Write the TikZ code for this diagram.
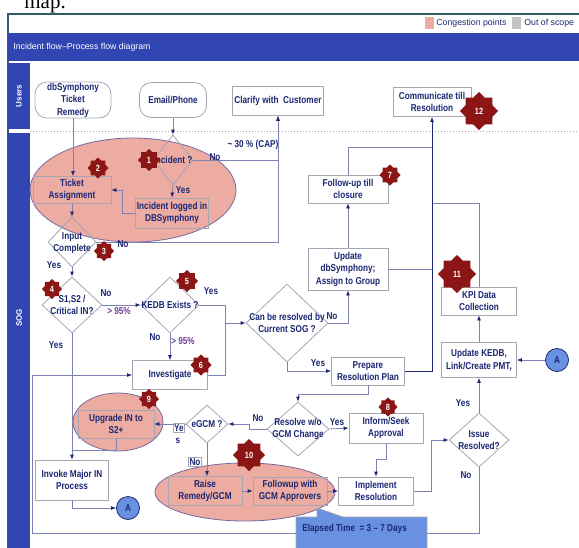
\documentclass[tikz,border=0pt]{standalone}
\usepackage{fontspec}
\setmainfont{Liberation Sans}[FakeStretch=0.82]
\newfontfamily\widesans{Liberation Sans}
\newfontfamily\serifont{Liberation Serif}
\usepackage{tikz}
\usetikzlibrary{shapes,arrows.meta}

\definecolor{navyt}{RGB}{28,38,115}
\definecolor{barblue}{RGB}{49,70,178}
\definecolor{framec}{RGB}{45,95,105}
\definecolor{flowc}{RGB}{125,130,180}
\definecolor{boxc}{RGB}{165,165,180}
\definecolor{congpink}{RGB}{236,172,162}
\definecolor{ellc}{RGB}{120,105,160}
\definecolor{starred}{RGB}{140,22,22}
\definecolor{outgray}{RGB}{195,195,195}
\definecolor{pctc}{RGB}{115,60,150}
\definecolor{calloutc}{RGB}{105,145,225}

\begin{document}
\begin{tikzpicture}[x=1pt, y=-1pt, line width=0.8pt,
  box/.style={draw=boxc, align=center, text=navyt, inner sep=0pt, font=\bfseries\fontsize{10}{12.5}\selectfont},
  pill/.style={box, rounded corners=12pt},
  decide/.style={diamond, draw=boxc, inner sep=0pt},
  dtext/.style={align=center, text=navyt, inner sep=0pt, font=\bfseries\fontsize{10}{12.5}\selectfont},
  flow/.style={draw=flowc, -{Latex[length=5pt,width=4pt,color=navyt]}},
  joinline/.style={draw=flowc},
  lbl/.style={text=navyt, inner sep=0pt, font=\bfseries\fontsize{10}{12}\selectfont},
  pct/.style={lbl, text=pctc},
  congestion/.style={ellipse, draw=ellc, fill=congpink, inner sep=0pt},
  cpoint/.style={star, star points=8, star point ratio=1.3, fill=starred, text=white, inner sep=0pt, minimum size=#1, font=\bfseries\fontsize{9}{9}\selectfont},
  conn/.style={circle, draw=navyt, fill=calloutc, text=navyt, minimum size=23pt, inner sep=0pt, font=\bfseries\fontsize{10}{10}\selectfont},
  legendtext/.style={anchor=west, text=navyt, inner sep=0pt, font=\widesans\fontsize{8.75}{9}\selectfont}
]
\useasboundingbox (0,0) rectangle (579,547);

\node[anchor=base west, inner sep=0pt, font=\serifont\fontsize{21}{21}\selectfont] (maptxt) at (24,8) {map.};
\draw[framec, line width=1.5pt] (8,14) rectangle (600,600);

\node[fill=congpink, minimum width=9pt, minimum height=12pt, inner sep=0pt] (lgpink) at (429,23) {};
\node[legendtext] (lgcong) at (436,23) {Congestion points};
\node[fill=outgray, minimum width=9pt, minimum height=12pt, inner sep=0pt] (lggray) at (516,23) {};
\node[legendtext] (lgout) at (524,23) {Out of scope};

\fill[barblue] (8,33) rectangle (600,61);
\node[legendtext, text=white] (title) at (13,47) {Incident flow–Process flow diagram};

\fill[barblue] (8,63) rectangle (30,129);
\fill[barblue] (8,133) rectangle (30,600);
\node[rotate=90, text=white, font=\widesans\bfseries\fontsize{8}{8}\selectfont] (users) at (19,96) {Users};
\node[rotate=90, text=white, font=\widesans\bfseries\fontsize{8}{8}\selectfont] (sog) at (19,318) {SOG};
\draw[boxc, dotted, line width=1pt] (30,131) -- (600,131);

\node[congestion, minimum width=206pt, minimum height=104pt] (cong1) at (133,190) {};
\node[congestion, minimum width=90pt, minimum height=58pt] (cong2) at (118,422) {};
\node[congestion, minimum width=180pt, minimum height=58pt] (cong3) at (245,492) {};

\node[pill, minimum width=76pt, minimum height=36pt] (db) at (73,100) {dbSymphony\\Ticket\\Remedy};
\node[pill, minimum width=67pt, minimum height=35pt] (email) at (173,100) {Email/Phone};
\node[box, minimum width=91pt, minimum height=29pt] (clar) at (278,101) {Clarify with\ \ Customer};
\node[box, minimum width=78pt, minimum height=29pt] (comm) at (432,102) {Communicate till\\Resolution};

\node[decide, minimum width=40pt, minimum height=50pt] (inc) at (173,160) {};
\node[dtext] (inctxt) at (inc) {Incident ?};
\node[box, minimum width=73pt, minimum height=30pt] (log) at (172,213) {Incident logged in\\DBSymphony};
\node[box, minimum width=78pt, minimum height=27pt] (ta) at (72,190) {Ticket\\Assignment};
\node[decide, minimum width=48pt, minimum height=50pt] (inp) at (72,242) {};
\node[dtext] (inptxt) at (72,243) {Input\\Complete};
\node[decide, minimum width=60pt, minimum height=56pt] (s1) at (72,305) {};
\node[dtext] (s1txt) at (s1) {S1,S2 /\\Critical IN?};
\node[decide, minimum width=58pt, minimum height=56pt] (kedb) at (170,305) {};
\node[dtext] (kedbtxt) at (kedb) {KEDB Exists ?};
\node[box, minimum width=75pt, minimum height=29pt] (inv) at (170,375) {Investigate};
\node[decide, minimum width=82pt, minimum height=78pt] (can) at (287,323) {};
\node[dtext] (cantxt) at (can) {Can be resolved by\\Current SOG ?};
\node[box, minimum width=80pt, minimum height=42pt] (upd) at (348,269) {Update\\dbSymphony;\\Assign to Group};
\node[box, minimum width=80pt, minimum height=28pt] (fol) at (348,189) {Follow-up till\\closure};
\node[box, minimum width=75pt, minimum height=28pt] (kpi) at (479,301) {KPI Data\\Collection};
\node[box, minimum width=75pt, minimum height=35pt] (ukedb) at (479,360) {Update KEDB,\\Link/Create PMT,};
\node[conn] (acirc) at (557,360) {A};
\node[box, minimum width=73pt, minimum height=28pt] (prep) at (368,371) {Prepare\\Resolution Plan};
\node[decide, minimum width=62pt, minimum height=54pt] (res) at (298,429) {};
\node[dtext] (restxt) at (res) {Resolve w/o\\GCM Change};
\node[box, minimum width=74pt, minimum height=30pt] (inf) at (386,428) {Inform/Seek\\Approval};
\node[box, minimum width=75pt, minimum height=28pt] (impl) at (376,491) {Implement\\Resolution};
\node[decide, minimum width=60pt, minimum height=54pt] (iss) at (479,440) {};
\node[dtext] (isstxt) at (iss) {Issue\\Resolved?};
\node[decide, minimum width=42pt, minimum height=38pt] (egcm) at (207,424) {};
\node[dtext] (egcmtxt) at (egcm) {eGCM ?};
\node[box, minimum width=76pt, minimum height=28pt] (upg) at (116,424) {Upgrade IN to\\S2+};
\node[box, minimum width=74pt, minimum height=29pt] (raise) at (205,491) {Raise\\Remedy/GCM};
\node[box, minimum width=74pt, minimum height=28pt] (fup) at (290,491) {Followup with\\GCM Approvers};
\node[box, minimum width=73pt, minimum height=40pt] (maj) at (72,480) {Invoke Major IN\\Process};
\node[conn] (acirc2) at (128,508) {A};

\coordinate (mj) at (72,450);
\coordinate (jn) at (225,323);
\coordinate (t1) at (432,147);
\coordinate (t2) at (432,203);
\coordinate (lb) at (32,533);

\draw[flow] (db.south) -- (db.south |- ta.north);
\draw[flow] (email.south) -- (inc.north);
\draw[flow] (inc.east) -| (clar.south);
\draw[flow] (inp.east) -| (clar.south);
\draw[flow] (inc.south) -- (log.north);
\draw[flow] (log.west) -- ++(-13,0) |- (ta.east);
\draw[flow] (ta.south) -- (inp.north);
\draw[flow] (inp.south) -- (s1.north);
\draw[flow] (s1.east) -- (kedb.west);
\draw[flow] (s1.south) -- (maj.north);
\draw[joinline] (upg.south) |- (mj);
\draw[flow] (kedb.south) -- (inv.north);
\draw[flow] (kedb.east) -| (jn) -- (can.west);
\draw[joinline] (inv.east) -| (jn);
\draw[flow] (can.east) -| (upd.south);
\draw[flow] (can.south) |- (prep.west);
\draw[flow] (upd.north) -- (fol.south);
\draw[joinline] (fol.north) |- (t1);
\draw[joinline] (upd.east) -- (upd.east -| t1);
\draw[joinline] (kpi.north) |- (t2);
\draw[flow, draw=navyt] (prep.east) -| (comm.south);
\draw[flow] (ukedb.north) -- (kpi.south);
\draw[flow] (acirc.west) -- (ukedb.east);
\draw[flow] (prep.south) -- ++(0,9) -| (res.north);
\draw[flow] (res.east) -- (inf.west);
\draw[flow] (res.west) -- ++(-17,0) |- (egcm.east);
\draw[flow] (egcm.west) -- (upg.east);
\draw[flow] (egcm.south) -- (egcm.south |- raise.north);
\draw[flow] (raise.east) -- (fup.west);
\draw[flow] (fup.east) -- (impl.west);
\draw[flow] (inf.south) -- ++(0,16) -| (impl.north);
\draw[flow] (impl.east) -- ++(17,0) |- (iss.west);
\draw[flow] (iss.north) -- (ukedb.south);
\draw[flow] (iss.south) |- (lb) |- (inv.west);
\draw[flow] (maj.south) |- (acirc2.west);

\node[lbl] (no1) at (215,157) {No};
\node[lbl] (cap) at (253,145) {\textasciitilde{} 30 \% (CAP)};
\node[lbl] (yes1) at (183,190) {Yes};
\node[lbl] (no2) at (123,244) {No};
\node[lbl] (yes2) at (54,265) {Yes};
\node[lbl] (no3) at (106,293) {No};
\node[pct] (pct1) at (119,311) {> 95\%};
\node[lbl] (yes3) at (56,345) {Yes};
\node[lbl] (yes4) at (211,291) {Yes};
\node[lbl] (no4) at (155,337) {No};
\node[pct] (pct2) at (183,341) {> 95\%};
\node[lbl] (no5) at (332,316) {No};
\node[lbl] (yes5) at (318,363) {Yes};
\node[lbl] (yes6) at (337,422) {Yes};
\node[lbl] (no6) at (258,418) {No};
\node[lbl, draw=boxc, fill=white, inner sep=1pt] (yes7) at (179,428) {Ye};
\node[lbl] (yes7s) at (178,441) {s};
\node[lbl, draw=boxc, fill=white, inner sep=1pt] (no7) at (195,462) {No};
\node[lbl] (yes8) at (463,403) {Yes};
\node[lbl] (no8) at (466,475) {No};

\node[cpoint=22pt] (c1) at (149,160) {1};
\node[cpoint=21pt] (c2) at (98,168) {2};
\node[cpoint=20pt] (c3) at (104,251) {3};
\node[cpoint=20pt] (c4) at (52,289) {4};
\node[cpoint=22pt] (c5) at (187,281) {5};
\node[cpoint=21pt] (c6) at (201,365) {6};
\node[cpoint=21pt] (c7) at (390,175) {7};
\node[cpoint=19pt] (c8) at (388,407) {8};
\node[cpoint=20pt] (c9) at (149,399) {9};
\node[cpoint=32pt] (c10) at (249,455) {10};
\node[cpoint=38pt] (c11) at (457,274) {11};
\node[cpoint=38pt] (c12) at (479,111) {12};

\draw[draw=boxc, fill=calloutc] (296,517) -- (317,517) -- (317,508) -- (343,517) -- (427,517) -- (427,560) -- (296,560) -- cycle;
\node[lbl, anchor=west] (elapsed) at (302,529) {Elapsed Time\ \ = 3 – 7 Days};
\end{tikzpicture}
\end{document}
